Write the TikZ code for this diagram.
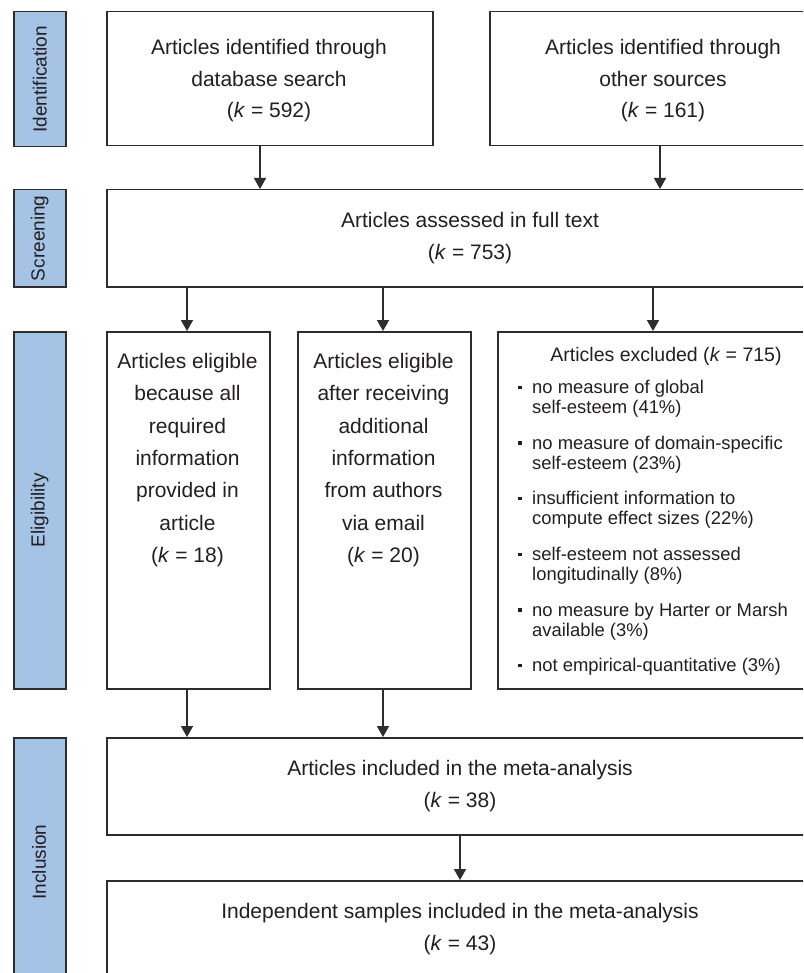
\documentclass[tikz,border=0pt]{standalone}
\usepackage{fontspec}
\setmainfont{Liberation Sans}
\usetikzlibrary{arrows.meta}
\definecolor{barblue}{RGB}{164,195,229}
\definecolor{ink}{RGB}{35,31,32}
\definecolor{frame}{RGB}{45,45,45}
\newcommand\exbul{\makebox[14pt][l]{\rule[4.5pt]{3.5pt}{3.5pt}}}
\newcommand\exind{\hspace*{14pt}}
\begin{document}
\begin{tikzpicture}[x=1pt,y=-1pt,
  box/.style={draw=frame, line width=1.5pt, fill=white, inner sep=0pt, anchor=north west},
  bar/.style={draw=frame, line width=1.5pt, fill=barblue, inner sep=0pt, anchor=north west, minimum width=52pt},
  bartext/.style={rotate=90, text=ink, font=\fontsize{19}{22}\selectfont},
  main/.style={align=center, text=ink, font=\fontsize{21}{31.5}\selectfont},
  elig/.style={align=center, text=ink, font=\fontsize{21}{32.3}\selectfont},
  small/.style={text=ink, font=\fontsize{18.4}{20}\selectfont},
  arr/.style={draw=frame, line width=1.6pt, -{Triangle[width=12pt,length=11pt]}}]
\useasboundingbox (0,0) rectangle (803,973);
\fill[white] (0,0) rectangle (803,973);
\clip (0,0) rectangle (803,973);

% phase bars
\node[bar, minimum height=135pt] (bident) at (13,11) {};
\node[bar, minimum height=97pt] (bscreen) at (13,189) {};
\node[bar, minimum height=357pt] (belig) at (13,331) {};
\node[bar, minimum height=280pt] (bincl) at (13,737) {};
\node[bartext] (lident) at (bident.center) {Identification};
\node[bartext] (lscreen) at (bscreen.center) {Screening};
\node[bartext] (lelig) at (belig.center) {Eligibility};
\node[bartext] (lincl) at (39,862) {Inclusion};

% boxes
\node[box, minimum width=326pt, minimum height=134pt] (db) at (106,11) {};
\node[box, minimum width=350pt, minimum height=134pt] (other) at (489,11) {};
\node[box, minimum width=734pt, minimum height=97pt] (screen) at (106,189) {};
\node[box, minimum width=163pt, minimum height=357pt] (el1) at (106,331) {};
\node[box, minimum width=173pt, minimum height=357pt] (el2) at (297,331) {};
\node[box, minimum width=343pt, minimum height=357pt] (excl) at (497,331) {};
\node[box, minimum width=708pt, minimum height=97pt] (incl) at (106,737) {};
\node[box, minimum width=708pt, minimum height=140pt] (samp) at (106,880) {};

% texts
\node[main] (tdb) at (269,81) {Articles identified through\\database search\\(\textit{k} = 592)};
\node[main] (tother) at (663,81) {Articles identified through\\other sources\\(\textit{k} = 161)};
\node[main] (tscreen) at (470,238) {Articles assessed in full text\\(\textit{k} = 753)};
\node[elig] (tel1) at (187.5,460) {Articles eligible\\because all\\required\\information\\provided in\\article\\(\textit{k} = 18)};
\node[elig] (tel2) at (383.5,460) {Articles eligible\\after receiving\\additional\\information\\from authors\\via email\\(\textit{k} = 20)};
\node[text=ink, font=\fontsize{19.5}{22}\selectfont] (texcl) at (666,356) {Articles excluded (\textit{k} = 715)};
\node[small, align=left, anchor=west, inner sep=0pt] (texlist) at (518,528) {%
\exbul no measure of global\\ \exind self-esteem (41\%)\\[15.6pt]
\exbul no measure of domain-specific\\ \exind self-esteem (23\%)\\[15.6pt]
\exbul insufficient information to\\ \exind compute effect sizes (22\%)\\[15.6pt]
\exbul self-esteem not assessed\\ \exind longitudinally (8\%)\\[15.6pt]
\exbul no measure by Harter or Marsh\\ \exind available (3\%)\\[15.6pt]
\exbul not empirical-quantitative (3\%)};
\node[main] (tincl) at (460,786) {Articles included in the meta-analysis\\(\textit{k} = 38)};
\node[main] (tsamp) at (460,929) {Independent samples included in the meta-analysis\\(\textit{k} = 43)};

% connectors
\draw[arr] (screen.south -| 187,0) -- (el1.north -| 187,0);
\draw[arr] (db.south -| 260,0) -- (screen.north -| 260,0);
\draw[arr] (other.south -| 660,0) -- (screen.north -| 660,0);
\draw[arr] (screen.south -| 383,0) -- (el2.north -| 383,0);
\draw[arr] (screen.south -| 653,0) -- (excl.north -| 653,0);
\draw[arr] (el1.south -| 187,0) -- (incl.north -| 187,0);
\draw[arr] (el2.south -| 383,0) -- (incl.north -| 383,0);
\draw[arr] (incl.south -| 460,0) -- (samp.north -| 460,0);
\end{tikzpicture}
\end{document}
